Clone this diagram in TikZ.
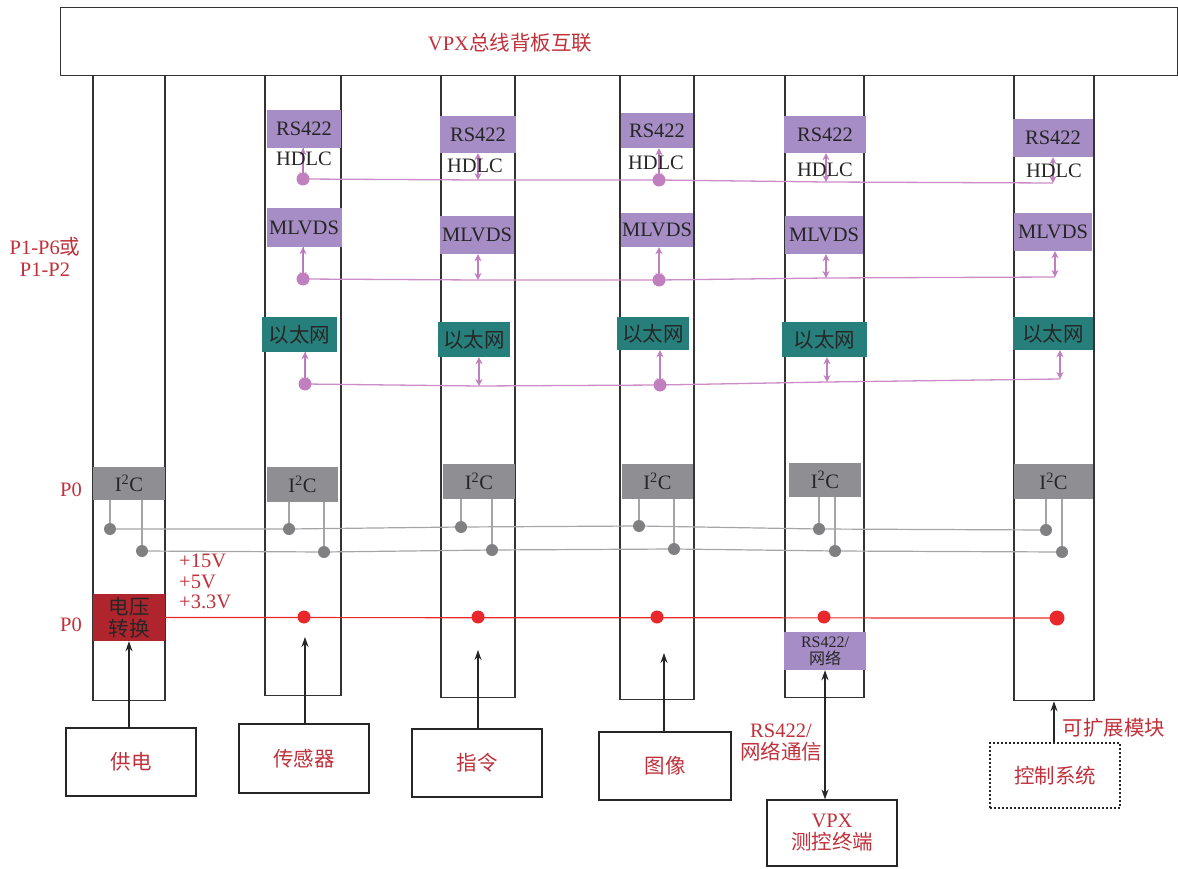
\documentclass[tikz,border=0pt]{standalone}
\usepackage{fontspec}
\setmainfont{Liberation Serif}
\newfontfamily\cjk[Scale=1.0]{Noto Sans CJK SC}
\newcommand{\zhtext}[1]{{\cjk #1}}
\usetikzlibrary{arrows.meta}
\definecolor{busviolet}{HTML}{A68DC5}
\definecolor{ethteal}{HTML}{267F7B}
\definecolor{i2cgray}{HTML}{8F8E93}
\definecolor{convred}{HTML}{B0252D}
\definecolor{powerred}{HTML}{E8282B}
\definecolor{linkpink}{HTML}{CC8CC8}
\definecolor{tappink}{HTML}{C07FBE}
\definecolor{tapline}{HTML}{E07A2E}
\definecolor{graywire}{HTML}{A5A5A5}
\definecolor{dotgray}{HTML}{808083}
\definecolor{labelred}{HTML}{C0303A}
\tikzset{
  board/.style={draw=black!80, line width=1.3pt, inner sep=0pt},
  cell/.style={inner sep=0pt, text=black!85, font=\fontsize{20.5}{22}\selectfont},
  busbox/.style={cell, fill=busviolet},
  ethbox/.style={cell, fill=ethteal},
  i2cbox/.style={cell, fill=i2cgray},
  convbox/.style={cell, fill=convred, align=center},
  extbox/.style={draw=black!85, line width=1.2pt, text=labelred, align=center, inner sep=0pt,
    font=\fontsize{20.5}{22}\selectfont},
  redlabel/.style={text=labelred, inner sep=0pt, font=\fontsize{20.5}{21}\selectfont},
  plainlabel/.style={text=black!85, inner sep=0pt, font=\fontsize{20.5}{22}\selectfont},
  tap/.style={circle, inner sep=0pt, minimum size=13pt, fill=tappink},
  i2ctap/.style={circle, inner sep=0pt, minimum size=12pt, fill=dotgray},
  powertap/.style={circle, inner sep=0pt, minimum size=13pt, fill=powerred},
  buslink/.style={draw=linkpink, line width=1.3pt},
  busarrow/.style={draw=tappink, line width=1.4pt,
    {Stealth[length=7pt,width=7pt]}-{Stealth[length=7pt,width=7pt]}},
  i2cwire/.style={draw=graywire, line width=1.2pt},
  powerwire/.style={draw=powerred, line width=1.2pt},
  feed/.style={draw=black!85, line width=1.2pt, -{Stealth[length=10pt,width=7pt]}},
  duplex/.style={draw=black!85, line width=1.2pt,
    {Stealth[length=10pt,width=7pt]}-{Stealth[length=10pt,width=7pt]}}
}
\begin{document}
\begin{tikzpicture}[x=1pt,y=-1pt]
  \useasboundingbox (0,0) rectangle (1178,869);

  % -- Backplane bar along the top --
  \node[board, anchor=north west, minimum width=1117pt, minimum height=68pt] (backplane) at (60,7) {};
  \node[redlabel] (backplanelbl) at (510,43) {VPX\zhtext{总线背板互联}};

  % -- The six boards (power, sensor, command, image, telemetry, expansion) --
  \node[board, anchor=north, minimum width=72pt, minimum height=625pt] (b1) at (129,75) {};
  \node[board, anchor=north, minimum width=76pt, minimum height=620pt] (b2) at (303,75) {};
  \node[board, anchor=north, minimum width=74pt, minimum height=622pt] (b3) at (478,75) {};
  \node[board, anchor=north, minimum width=74pt, minimum height=624pt] (b4) at (657,75) {};
  \node[board, anchor=north, minimum width=79pt, minimum height=622pt] (b5) at (824.5,75) {};
  \node[board, anchor=north, minimum width=80pt, minimum height=625pt] (b6) at (1054,75) {};

  % -- Connector labels on the left --
  \node[redlabel, align=center, font=\fontsize{20.5}{22}\selectfont] (pbus) at (45,257) {P1-P6\zhtext{或}\\P1-P2};
  \node[redlabel] (pzeroa) at (71,490) {P0};
  \node[redlabel] (pzerob) at (71,625) {P0};

  % -- RS422 / HDLC row --
  \node[busbox, minimum width=74pt, minimum height=38pt] (rs2) at (304,129) {RS422};
  \node[busbox, minimum width=76pt, minimum height=37pt] (rs3) at (478,134.5) {RS422};
  \node[busbox, minimum width=72pt, minimum height=35pt] (rs4) at (657,130.5) {RS422};
  \node[busbox, minimum width=82pt, minimum height=37pt] (rs5) at (825,134.5) {RS422};
  \node[busbox, minimum width=80pt, minimum height=38pt] (rs6) at (1053,138) {RS422};
  \coordinate (h2) at (303,179);
  \coordinate (h3) at (478,180);
  \coordinate (h4) at (659,180);
  \coordinate (h5) at (826,182);
  \coordinate (h6) at (1053,183);
  \draw[buslink] (h2) -- (h3) -- (h4) -- (h5) -- (h6);
  \draw[busarrow] (h2 |- rs2.south) -- (h2);
  \draw[tapline, line width=1pt] (h2 |- rs2.south) -- (h2);
  \draw[busarrow] (h3 |- rs3.south) -- (h3);
  \draw[busarrow] (h4 |- rs4.south) -- (h4);
  \draw[busarrow] (h5 |- rs5.south) -- (h5);
  \draw[busarrow] (h6 |- rs6.south) -- (h6);
  \node[plainlabel] (hd2) at (304,159) {HDLC};
  \node[plainlabel] (hd3) at (475,166) {HDLC};
  \node[plainlabel] (hd4) at (656,163) {HDLC};
  \node[plainlabel] (hd5) at (825,170) {HDLC};
  \node[plainlabel] (hd6) at (1054,171) {HDLC};
  \node[tap] (hdot2) at (h2) {};
  \node[tap] (hdot4) at (h4) {};

  % -- MLVDS row --
  \node[busbox, minimum width=75pt, minimum height=39pt] (ml2) at (304,227.5) {MLVDS};
  \node[busbox, minimum width=74pt, minimum height=38pt] (ml3) at (477,235) {MLVDS};
  \node[busbox, minimum width=72pt, minimum height=34pt] (ml4) at (657,230) {MLVDS};
  \node[busbox, minimum width=78pt, minimum height=38pt] (ml5) at (824,235) {MLVDS};
  \node[busbox, minimum width=78pt, minimum height=38pt] (ml6) at (1053,232) {MLVDS};
  \coordinate (m2) at (303,279);
  \coordinate (m3) at (478,280);
  \coordinate (m4) at (659,280);
  \coordinate (m5) at (826,278);
  \coordinate (m6) at (1055,277);
  \draw[buslink] (m2) -- (m3) -- (m4) -- (m5) -- (m6);
  \draw[busarrow] (m2 |- ml2.south) -- (m2);
  \draw[tapline, line width=1pt] (m2 |- ml2.south) -- (m2);
  \draw[busarrow] (m3 |- ml3.south) -- (m3);
  \draw[busarrow] (m4 |- ml4.south) -- (m4);
  \draw[busarrow] (m5 |- ml5.south) -- (m5);
  \draw[busarrow] (m6 |- ml6.south) -- (m6);
  \node[tap] (mdot2) at (m2) {};
  \node[tap] (mdot4) at (m4) {};

  % -- Ethernet row --
  \node[ethbox, minimum width=75pt, minimum height=35pt] (eth2) at (299.5,334.5) {\zhtext{以太网}};
  \node[ethbox, minimum width=72pt, minimum height=35pt] (eth3) at (474,339.5) {\zhtext{以太网}};
  \node[ethbox, minimum width=72pt, minimum height=33pt] (eth4) at (653,333.5) {\zhtext{以太网}};
  \node[ethbox, minimum width=85pt, minimum height=35pt] (eth5) at (824.5,339.5) {\zhtext{以太网}};
  \node[ethbox, minimum width=80pt, minimum height=33pt] (eth6) at (1053,333.5) {\zhtext{以太网}};
  \coordinate (e2) at (305,384);
  \coordinate (e3) at (479,386);
  \coordinate (e4) at (660,385);
  \coordinate (e5) at (827,382);
  \coordinate (e6) at (1060,379);
  \draw[buslink] (e2) -- (e3) -- (e4) -- (e5) -- (e6);
  \draw[busarrow] (e2 |- eth2.south) -- (e2);
  \draw[tapline, line width=1pt] (e2 |- eth2.south) -- (e2);
  \draw[busarrow] (e3 |- eth3.south) -- (e3);
  \draw[busarrow] (e4 |- eth4.south) -- (e4);
  \draw[busarrow] (e5 |- eth5.south) -- (e5);
  \draw[busarrow] (e6 |- eth6.south) -- (e6);
  \node[tap] (edot2) at (e2) {};
  \node[tap] (edot4) at (e4) {};

  % -- I2C row (two wires) --
  \node[i2cbox, minimum width=72pt, minimum height=33pt] (i2c1) at (129,483.5) {I\textsuperscript{2}C};
  \node[i2cbox, minimum width=71pt, minimum height=35pt] (i2c2) at (302.5,484.5) {I\textsuperscript{2}C};
  \node[i2cbox, minimum width=72pt, minimum height=35pt] (i2c3) at (479,481.5) {I\textsuperscript{2}C};
  \node[i2cbox, minimum width=71pt, minimum height=35pt] (i2c4) at (657.5,481.5) {I\textsuperscript{2}C};
  \node[i2cbox, minimum width=72pt, minimum height=34pt] (i2c5) at (825,480) {I\textsuperscript{2}C};
  \node[i2cbox, minimum width=79pt, minimum height=35pt] (i2c6) at (1053.5,481.5) {I\textsuperscript{2}C};
  \coordinate (ia1) at (110,529);  \coordinate (ib1) at (142,551);
  \coordinate (ia2) at (289,529);  \coordinate (ib2) at (324,552);
  \coordinate (ia3) at (461,527);  \coordinate (ib3) at (492,550);
  \coordinate (ia4) at (639,526);  \coordinate (ib4) at (674,549);
  \coordinate (ia5) at (819,529);  \coordinate (ib5) at (835,551);
  \coordinate (ia6) at (1046,530); \coordinate (ib6) at (1062,552);
  \draw[i2cwire] (ia1) -- (ia2) -- (ia3) -- (ia4) -- (ia5) -- (ia6);
  \draw[i2cwire] (ib1) -- (ib2) -- (ib3) -- (ib4) -- (ib5) -- (ib6);
  \foreach \k in {1,...,6} {
    \draw[i2cwire] (ia\k |- i2c\k.south) -- (ia\k);
    \draw[i2cwire] (ib\k |- i2c\k.south) -- (ib\k);
    \node[i2ctap] (iadot\k) at (ia\k) {};
    \node[i2ctap] (ibdot\k) at (ib\k) {};
  }

  % -- Power conversion and supply rail --
  \node[convbox, minimum width=72pt, minimum height=47pt] (conv) at (129,617.5) {\zhtext{电压}\\\zhtext{转换}};
  \node[redlabel, align=left, anchor=north west, font=\fontsize{20.5}{20.5}\selectfont] (rails) at (179,554) {+15V\\+5V\\+3.3V};
  \coordinate (p6) at (1057,618);
  \draw[powerwire] (conv.east) -- (p6);
  \node[powertap] (pdot2) at (304,617) {};
  \node[powertap] (pdot3) at (478,617) {};
  \node[powertap] (pdot4) at (657,617) {};
  \node[powertap] (pdot5) at (824,617) {};
  \node[powertap, minimum size=15pt] (pdot6) at (p6) {};

  % -- RS422 / network port on the telemetry board --
  \node[busbox, minimum width=82pt, minimum height=38pt, align=center, font=\fontsize{16}{17}\selectfont] (rsnet) at (825,651) {RS422/\\\zhtext{网络}};

  % -- External units below the boards --
  \node[extbox, minimum width=130pt, minimum height=68pt] (supply) at (131,762) {\zhtext{供电}};
  \node[extbox, minimum width=130pt, minimum height=69pt] (sensor) at (304,758.5) {\zhtext{传感器}};
  \node[extbox, minimum width=130pt, minimum height=68pt] (order) at (477,763) {\zhtext{指令}};
  \node[extbox, minimum width=132pt, minimum height=68pt] (image) at (665,766) {\zhtext{图像}};
  \node[extbox, minimum width=130pt, minimum height=66pt] (term) at (832,833) {VPX\\\zhtext{测控终端}};
  \node[extbox, dash pattern=on 2pt off 2pt, minimum width=130pt, minimum height=65pt] (ctrl) at (1055,775.5) {\zhtext{控制系统}};

  % -- Feed arrows into the boards --
  \coordinate (s2) at (305,637);
  \coordinate (s3) at (478,650);
  \coordinate (s4) at (664,653);
  \draw[feed] (conv.south |- supply.north) -- (conv.south);
  \draw[feed] (s2 |- sensor.north) -- (s2);
  \draw[feed] (s3 |- order.north) -- (s3);
  \draw[feed] (s4 |- image.north) -- (s4);
  \draw[duplex] (rsnet.south) -- (rsnet.south |- term.north);
  \draw[feed] (b6.south |- ctrl.north) -- (b6.south);

  % -- Remaining labels --
  \node[redlabel, align=center, font=\fontsize{20.5}{22}\selectfont] (netlbl) at (781,743) {RS422/\\\zhtext{网络通信}};
  \node[redlabel] (expandlbl) at (1114,728) {\zhtext{可扩展模块}};

\end{tikzpicture}
\end{document}
